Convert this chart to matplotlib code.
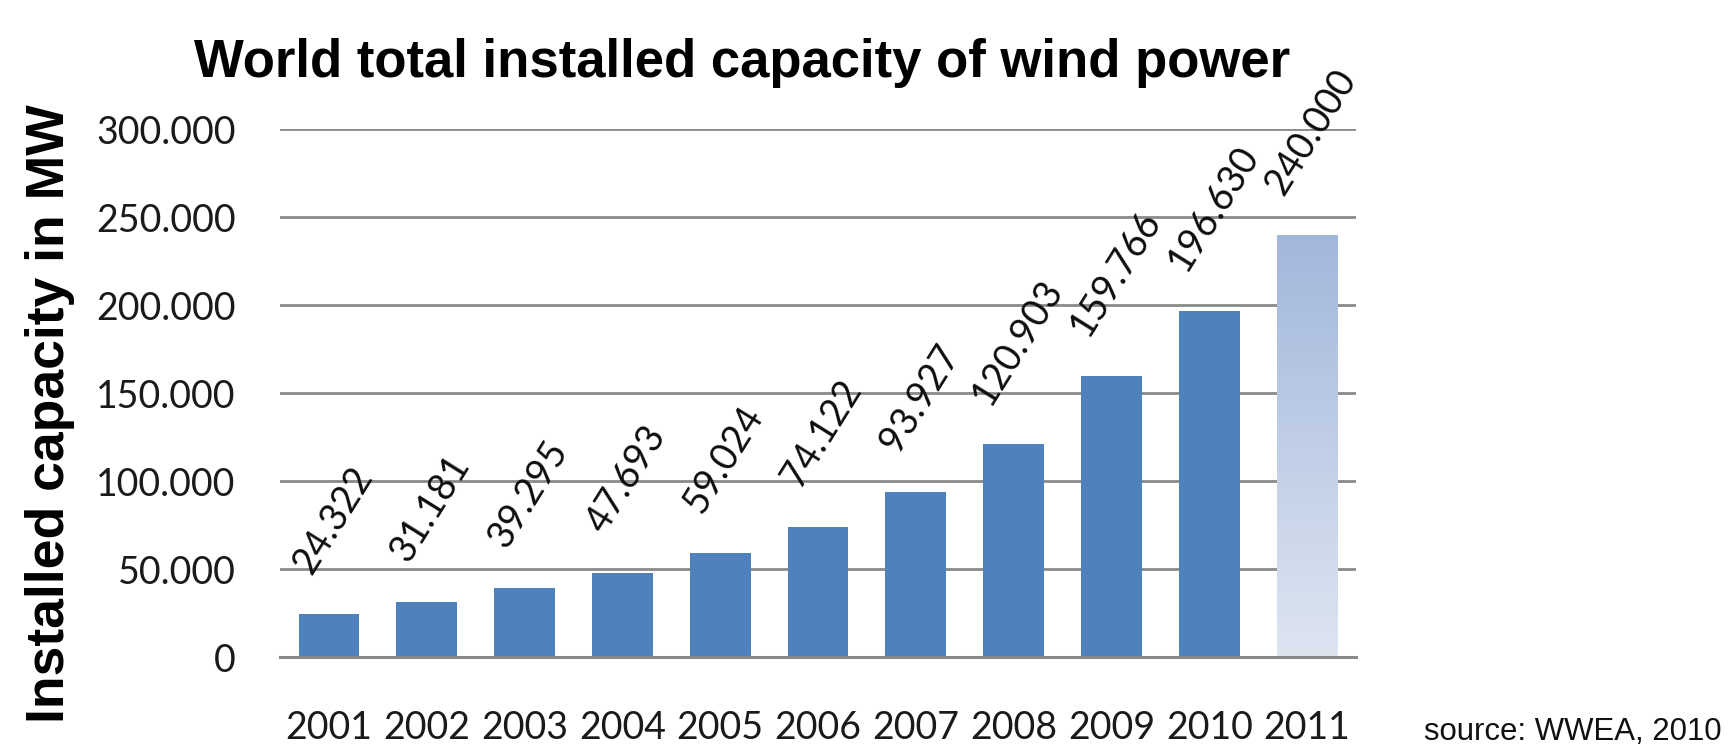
import matplotlib
matplotlib.use("Agg")
import matplotlib.pyplot as plt
import numpy as np

# Datos (MW instalados por año)
years = ["2001", "2002", "2003", "2004", "2005", "2006", "2007", "2008", "2009", "2010", "2011"]
capacity = [24322, 31181, 39295, 47693, 59024, 74122, 93927, 120903, 159766, 196630, 240000]
y_ticks = [0, 50000, 100000, 150000, 200000, 250000, 300000]

BLUE = "#4f81bd"
GRID = "#8a8a8a"
NUM_FONT = ["Lato", "DejaVu Sans"]
TXT_FONT = ["Liberation Sans", "DejaVu Sans"]


def miles(v):
    # separador de miles con punto
    return f"{v:,}".replace(",", ".")


W, H = 1731, 746
fig = plt.figure(figsize=(W / 100, H / 100), dpi=100)
ax = fig.add_axes([280 / W, 1 - 657 / H, (1356 - 280) / W, (657 - 129) / H])

x = np.arange(len(years))
colors = [BLUE] * (len(years) - 1) + ["none"]
bars = ax.bar(x, capacity, width=0.62, color=colors, zorder=2)

# la última barra (estimación) con degradado
last = bars[-1]
grad = np.linspace(0, 1, 256).reshape(-1, 1)
cmap = matplotlib.colors.LinearSegmentedColormap.from_list("g", ["#dee5f1", "#a2b7dc"])
img = ax.imshow(grad, cmap=cmap, origin="lower", aspect="auto", zorder=2,
                extent=[last.get_x(), last.get_x() + last.get_width(), 0, last.get_height()])
img.set_clip_path(last)

for i, v in enumerate(capacity):
    ax.annotate(miles(v), xy=(i, v), xytext=(4, 34), textcoords="offset pixels",
                rotation=58, ha="center", va="bottom", fontsize=27,
                family=NUM_FONT, color="#0d0d0d", annotation_clip=False)

ax.set_xlim(-0.5, len(years) - 0.5)
ax.set_ylim(0, 300000)
ax.set_yticks(y_ticks)
ax.set_yticklabels([miles(t) for t in y_ticks], family=NUM_FONT, fontsize=27, color="#1a1a1a")
ax.set_xticks(x)
ax.set_xticklabels(years, family=NUM_FONT, fontsize=27, color="#1a1a1a")
ax.tick_params(axis="y", length=0, pad=32)
ax.tick_params(axis="x", length=0, pad=38)

ax.grid(axis="y", color=GRID, linewidth=2.0, zorder=0)
ax.set_axisbelow(True)
for s in ["top", "right", "left"]:
    ax.spines[s].set_visible(False)
ax.spines["bottom"].set_color(GRID)
ax.spines["bottom"].set_linewidth(2.2)

fig.text(742 / W, 1 - 77 / H, "World total installed capacity of wind power",
         ha="center", va="baseline", fontsize=38, fontweight="bold", family=TXT_FONT)
fig.text(50 / W, 1 - 414 / H, "Installed capacity in MW", rotation=90,
         ha="center", va="center", fontsize=38.5, fontweight="bold", family=TXT_FONT)
fig.text(1722 / W, 1 - 740 / H, "source: WWEA, 2010", ha="right", va="baseline",
         fontsize=22.4, family=TXT_FONT, color="#111111")

fig.savefig("out.png", dpi=100)
